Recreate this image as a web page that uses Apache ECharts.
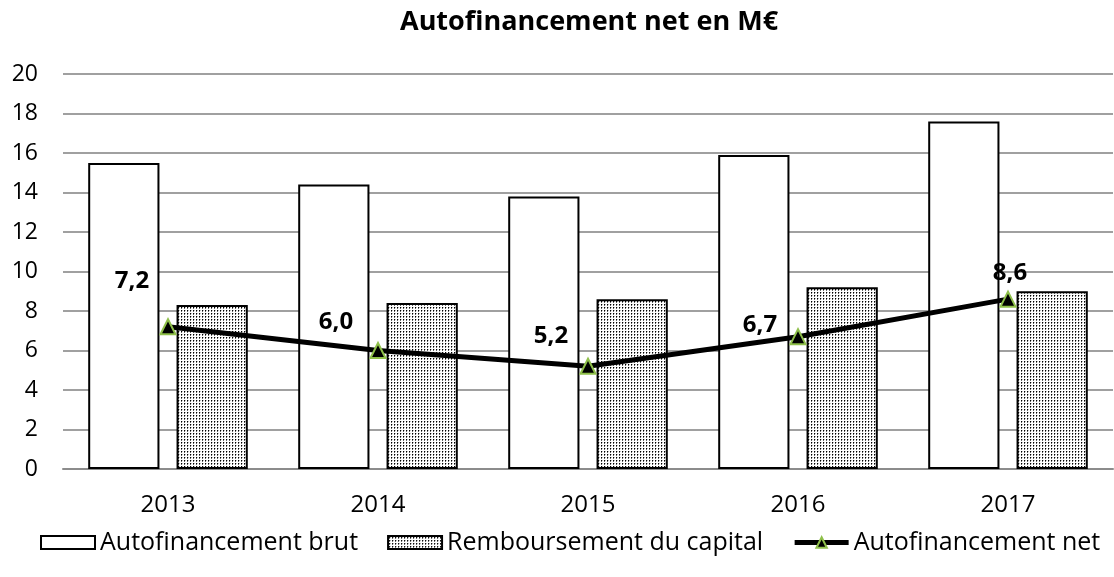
<!DOCTYPE html>
<html>
<head>
<meta charset="utf-8">
<script src="https://cdn.jsdelivr.net/npm/echarts@6/dist/echarts.min.js"></script>
<style>
  html, body { margin: 0; padding: 0; background: #fff; }
  #chart { width: 1114px; height: 577px; }
</style>
</head>
<body>
<div id="chart"></div>
<script>
const years = ['2013', '2014', '2015', '2016', '2017']
const brut = [15.5, 14.4, 13.8, 15.9, 17.6]
const remboursement = [8.3, 8.4, 8.6, 9.2, 9.0]
const net = [7.2, 6.0, 5.2, 6.7, 8.6]

// position des étiquettes comme dans l'original
const labelOffsets = [[-36, -46], [-42, -28], [-37, -30], [-38, -12], [2, -26]]

const font = '"Open Sans", "Noto Sans", sans-serif'

// motif pointillé pour le remboursement
const dots = document.createElement('canvas')
dots.width = 3
dots.height = 3
const ctx = dots.getContext('2d')
ctx.fillStyle = '#fff'
ctx.fillRect(0, 0, 3, 3)
ctx.fillStyle = '#000'
ctx.fillRect(1, 1, 1, 1)
ctx.fillStyle = 'rgba(0,0,0,0.6)'
ctx.fillRect(1, 2, 1, 1)
ctx.fillStyle = 'rgba(0,0,0,0.25)'
ctx.fillRect(2, 1, 1, 1)

const chart = echarts.init(document.getElementById('chart'))
chart.setOption({
	animation: false,
	title: {
		text: 'Autofinancement net en M€',
		left: 395,
		top: 4,
		textStyle: { fontFamily: font, fontSize: 27, fontWeight: 'bold', color: '#000' }
	},
	legend: {
		bottom: 17,
		left: 35,
		itemWidth: 54,
		itemHeight: 13,
		itemGap: 29,
		textStyle: { fontFamily: font, fontSize: 25, color: '#000' },
		data: [
			{ name: 'Autofinancement brut', icon: 'rect' },
			{ name: 'Remboursement du capital', icon: 'rect' },
			{ name: 'Autofinancement net', lineStyle: { width: 5 } }
		]
	},
	grid: { left: 63, right: 1, top: 74, bottom: 108 },
	xAxis: {
		type: 'category',
		data: years,
		axisTick: { show: false },
		axisLine: { lineStyle: { color: '#8c8c8c', width: 2 } },
		axisLabel: { fontFamily: font, fontSize: 24, color: '#000', margin: 24 }
	},
	yAxis: {
		type: 'value',
		min: 0,
		max: 20,
		interval: 2,
		axisLine: { show: false },
		axisTick: { show: false },
		splitLine: { lineStyle: { color: '#a0a0a0', width: 2 } },
		axisLabel: { fontFamily: font, fontSize: 23, color: '#000', margin: 25 }
	},
	series: [
		{
			name: 'Autofinancement brut',
			type: 'bar',
			data: brut,
			barGap: '24%',
			barCategoryGap: '24%',
			itemStyle: { color: '#fff', borderColor: '#000', borderWidth: 2 }
		},
		{
			name: 'Remboursement du capital',
			type: 'bar',
			data: remboursement,
			itemStyle: { color: { image: dots, repeat: 'repeat' }, borderColor: '#000', borderWidth: 2 }
		},
		{
			name: 'Autofinancement net',
			type: 'line',
			data: net.map((v, i) => ({
				value: v,
				label: { offset: labelOffsets[i] }
			})),
			symbol: 'triangle',
			symbolSize: 15,
			lineStyle: { color: '#000', width: 5 },
			itemStyle: { color: '#000', borderColor: '#8fc04a', borderWidth: 2 },
			label: {
				show: true,
				position: 'inside',
				fontFamily: font,
				fontSize: 24,
				fontWeight: 'bold',
				color: '#000',
				formatter: p => p.value.toFixed(1).replace('.', ',')
			},
			z: 5
		}
	]
})
</script>
</body>
</html>
